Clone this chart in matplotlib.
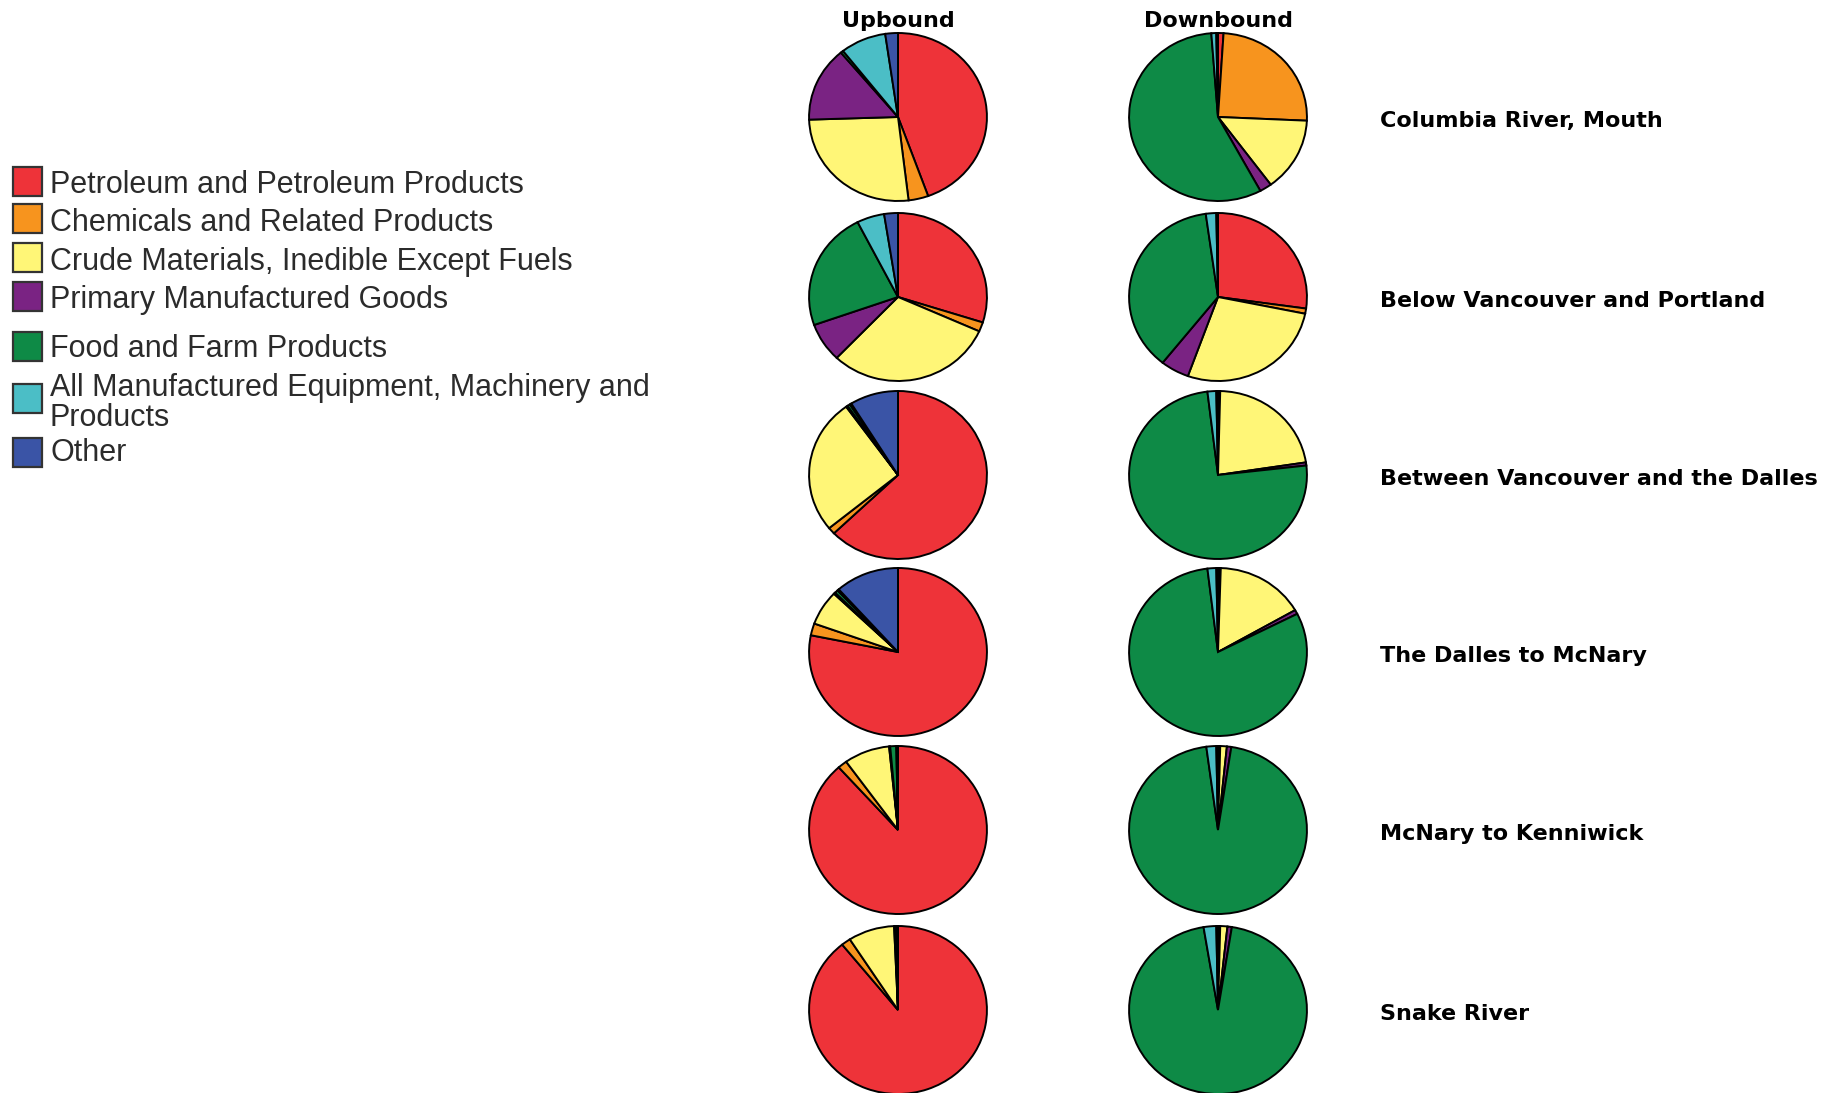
import matplotlib.pyplot as plt
from matplotlib.patches import Rectangle

W, H = 1821, 1093

categories = [
    "Petroleum and Petroleum Products",
    "Chemicals and Related Products",
    "Crude Materials, Inedible Except Fuels",
    "Primary Manufactured Goods",
    "Food and Farm Products",
    "All Manufactured Equipment, Machinery and\nProducts",
    "Other",
]
colors = ["#EE3339", "#F7941E", "#FFF677", "#7A2383", "#0E8A46", "#4BBEC6", "#3A54A6"]

segments = [
    "Columbia River, Mouth",
    "Below Vancouver and Portland",
    "Between Vancouver and the Dalles",
    "The Dalles to McNary",
    "McNary to Kenniwick",
    "Snake River",
]

# share of tonnage (%) per commodity group, same order as categories
upbound = [
    [44.5, 3.6, 26.4, 14.4, 0.5, 8.3, 2.3],
    [29.9, 1.8, 30.4, 7.5, 22.9, 5.0, 2.5],
    [62.8, 1.3, 26.0, 0.3, 0.5, 0.3, 8.8],
    [78.2, 2.3, 6.7, 0.3, 0.6, 0.3, 11.6],
    [88.4, 1.7, 8.3, 0.2, 1.1, 0.1, 0.2],
    [89.2, 1.7, 8.4, 0.2, 0.3, 0.1, 0.1],
]
downbound = [
    [1.0, 24.7, 14.2, 2.2, 56.7, 0.9, 0.3],
    [27.2, 1.0, 27.3, 5.2, 37.1, 1.9, 0.3],
    [0.3, 0.1, 22.2, 0.6, 74.9, 1.6, 0.3],
    [0.3, 0.2, 16.2, 0.8, 80.6, 1.6, 0.3],
    [0.3, 0.1, 1.2, 0.8, 95.5, 1.8, 0.3],
    [0.3, 0.1, 1.3, 0.8, 94.9, 2.3, 0.3],
]

fig = plt.figure(figsize=(W / 100, H / 100), dpi=100)
fig.patch.set_facecolor("white")


def px_axes(cx, cy, w, h):
    # axes placed by pixel centre (y measured from the top)
    return fig.add_axes([(cx - w / 2) / W, 1 - (cy + h / 2) / H, w / W, h / H])


col_x = [898, 1218]
row_y = [117, 297, 475, 652, 830, 1010]
pw, ph = 180, 170

for i, seg in enumerate(segments):
    for cx, data in zip(col_x, [upbound[i], downbound[i]]):
        ax = px_axes(cx, row_y[i], pw, ph)
        ax.pie(data, colors=colors, startangle=90, counterclock=False,
               wedgeprops=dict(edgecolor="black", linewidth=1.4))
        ax.set_aspect("auto")
        ax.set_xlim(-1.012, 1.012)
        ax.set_ylim(-1.012, 1.012)
        ax.axis("off")
    fig.text(1380 / W, 1 - (row_y[i] + 4) / H, seg, fontsize=16,
             fontweight="bold", family="DejaVu Sans", va="center", ha="left")

fig.text(col_x[0] / W, 1 - 21 / H, "Upbound", fontsize=16, fontweight="bold",
         family="DejaVu Sans", ha="center", va="center")
fig.text(col_x[1] / W, 1 - 21 / H, "Downbound", fontsize=16, fontweight="bold",
         family="DejaVu Sans", ha="center", va="center")

# legend on the left
box_y = [181, 219, 257, 296, 346, 398, 452]
text_y = [185, 223, 262, 300, 349, 403, 453]
for lab, c, by, ty in zip(categories, colors, box_y, text_y):
    fig.patches.append(Rectangle((13 / W, 1 - (by + 14.5) / H), 29 / W, 29 / H,
                                 transform=fig.transFigure, facecolor=c,
                                 edgecolor="#333333", linewidth=1.6))
    fig.text(50 / W, 1 - ty / H, lab, fontsize=22, family="Liberation Sans",
             color="#2b2b2b", va="center", ha="left", linespacing=1.0)

fig.savefig("out.png", dpi=100, facecolor="white")
